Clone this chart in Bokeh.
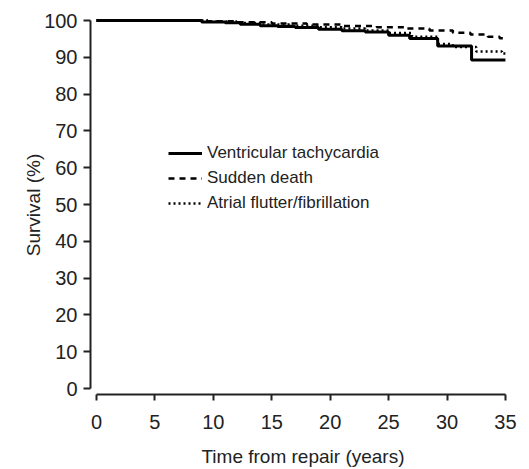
from bokeh.plotting import figure
from bokeh.models import Legend, LegendItem, FixedTicker, Range1d
from bokeh.embed import file_html
from bokeh.resources import INLINE

FONT = "Liberation Sans"
TEXT = "#222222"

x_ticks = [0, 5, 10, 15, 20, 25, 30, 35]
y_ticks = [0, 10, 20, 30, 40, 50, 60, 70, 80, 90, 100]

labels = ["Ventricular tachycardia", "Sudden death", "Atrial flutter/fibrillation"]

vt_time = [0, 9.0, 11.0, 12.3, 14.0, 15.5, 17.0, 19.0, 21.0, 23.0, 25.0, 26.8, 29.2, 32.1, 35.0]
vt_surv = [100, 99.6, 99.4, 99.0, 98.6, 98.4, 98.1, 97.6, 97.2, 96.9, 96.0, 95.1, 93.1, 89.3, 89.3]

sd_time = [0, 9.5, 12.0, 15.0, 18.0, 21.0, 24.0, 26.5, 28.5, 30.5, 32.0, 33.5, 34.5, 35.0]
sd_surv = [100, 99.8, 99.5, 99.2, 98.9, 98.5, 98.2, 97.8, 97.3, 96.7, 96.2, 95.6, 95.2, 95.2]

af_time = [0, 9.5, 12.0, 14.0, 16.5, 19.0, 21.0, 23.0, 25.0, 27.0, 29.2, 30.5, 32.5, 34.7, 35.0]
af_surv = [100, 99.7, 99.3, 98.9, 98.6, 98.2, 97.8, 97.3, 96.6, 95.6, 93.6, 92.8, 91.6, 91.0, 91.0]

p = figure(width=529, height=469, output_backend="svg", toolbar_location=None,
           x_range=Range1d(-0.513, 35.86), y_range=Range1d(-1.63, 101.36),
           min_border_left=90, min_border_right=14, min_border_top=15, min_border_bottom=75)
p.outline_line_color = None
p.grid.visible = False
p.background_fill_color = "white"
p.border_fill_color = "white"

for ax, ticks, bounds in ((p.xaxis[0], x_ticks, (0, 35)), (p.yaxis[0], y_ticks, (0, 100))):
    ax.ticker = FixedTicker(ticks=ticks)
    ax.bounds = bounds
    ax.axis_line_color = TEXT
    ax.axis_line_width = 2
    ax.major_tick_line_color = TEXT
    ax.major_tick_line_width = 2
    ax.major_tick_in = 0
    ax.minor_tick_line_color = None
    ax.major_label_text_font = FONT
    ax.major_label_text_font_size = "20px"
    ax.major_label_text_color = TEXT
    ax.axis_label_text_font = FONT
    ax.axis_label_text_font_size = "19px"
    ax.axis_label_text_font_style = "normal"
    ax.axis_label_text_color = TEXT

p.xaxis.axis_label = "Time from repair (years)"
p.xaxis.major_tick_out = 6
p.xaxis.major_label_standoff = 14
p.xaxis.axis_label_standoff = 14
p.yaxis.axis_label = "Survival (%)"
p.yaxis.major_tick_out = 7
p.yaxis.major_label_standoff = 6
p.yaxis.axis_label_standoff = -3

r1 = p.step(vt_time, vt_surv, mode="after", line_width=3, line_color="black")
r2 = p.step(sd_time, sd_surv, mode="after", line_width=2.5, line_dash="6 5", line_color="black")
r3 = p.step(af_time, af_surv, mode="after", line_width=2.5, line_dash="2 3", line_color="black")

legend = Legend(items=[LegendItem(label=labels[0], renderers=[r1]),
                       LegendItem(label=labels[1], renderers=[r2]),
                       LegendItem(label=labels[2], renderers=[r3])],
                location=(78, 180), padding=0, margin=0, spacing=3,
                glyph_width=34, glyph_height=22, label_height=22, label_standoff=5,
                label_text_font=FONT, label_text_font_size="17px", label_text_color=TEXT,
                border_line_alpha=0, background_fill_alpha=0)
p.add_layout(legend)

open("out.html", "w").write(file_html(p, INLINE))
